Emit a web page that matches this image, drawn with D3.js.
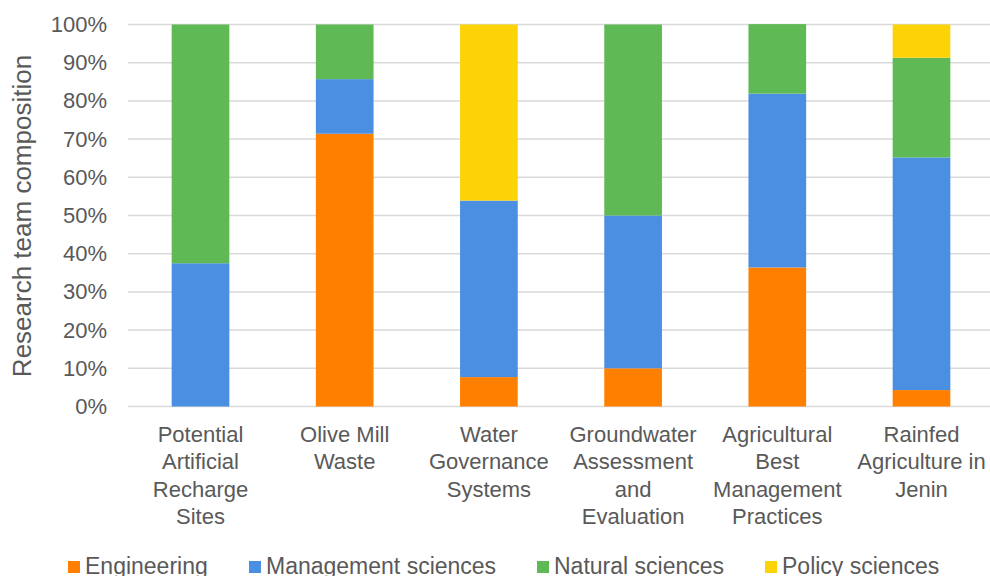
<!DOCTYPE html>
<html>
<head>
<meta charset="utf-8">
<script src="https://cdn.jsdelivr.net/npm/d3@7"></script>
<style>
  html, body { margin: 0; padding: 0; background: #fff; overflow: hidden; }
  svg { display: block; font-family: "Liberation Sans", Arial, sans-serif; }
</style>
</head>
<body>
<svg id="chart" width="990" height="576"></svg>
<script>
const categories = [
  ["Potential", "Artificial", "Recharge", "Sites"],
  ["Olive Mill", "Waste"],
  ["Water", "Governance", "Systems"],
  ["Groundwater", "Assessment", "and", "Evaluation"],
  ["Agricultural", "Best", "Management", "Practices"],
  ["Rainfed", "Agriculture in", "Jenin"]
];
const seriesNames = ["Engineering", "Management sciences", "Natural sciences", "Policy sciences"];
const engineering = [0, 71.4, 7.7, 10, 36.4, 4.3];
const management  = [37.5, 14.3, 46.2, 40, 45.5, 60.9];
const natural     = [62.5, 14.3, 0, 50, 18.2, 26.1];
const policy      = [0, 0, 46.1, 0, 0, 8.7];
const colors = ["#FF8000", "#4A8FE2", "#5FB955", "#FCD307"];
const yTicks = [0, 10, 20, 30, 40, 50, 60, 70, 80, 90, 100];

const svg = d3.select("#chart");
const textColor = "#595959";

const x = d3.scaleBand().domain(d3.range(categories.length)).range([128.4, 993.6]).paddingInner(0.6).paddingOuter(0.3);
const y = d3.scaleLinear().domain([0, 100]).range([406.5, 24.5]);

// gridlines
svg.append("g").selectAll("line").data(yTicks).join("line")
  .attr("x1", 128).attr("x2", 990)
  .attr("y1", d => y(d)).attr("y2", d => y(d))
  .attr("stroke", "#d9d9d9").attr("stroke-width", 1.5);

// y axis labels
const yAxis = d3.axisLeft(y).tickValues(yTicks).tickFormat(d => d + "%").tickSize(0).tickPadding(0);
const yg = svg.append("g").attr("transform", "translate(107,0)").call(yAxis);
yg.select(".domain").remove();
yg.selectAll("text").attr("fill", textColor).attr("font-size", 22).attr("font-family", "Liberation Sans, Arial, sans-serif");

// stacked data
const table = categories.map((c, i) => ({
  i,
  "Engineering": engineering[i],
  "Management sciences": management[i],
  "Natural sciences": natural[i],
  "Policy sciences": policy[i]
}));
const stack = d3.stack().keys(seriesNames)(table);

svg.append("g").selectAll("g").data(stack).join("g")
  .attr("fill", (d, k) => colors[k])
  .selectAll("rect").data(d => d).join("rect")
  .attr("x", d => x(d.data.i))
  .attr("width", x.bandwidth())
  .attr("y", d => y(d[1]))
  .attr("height", d => y(d[0]) - y(d[1]));

// x category labels
const xg = svg.append("g");
categories.forEach((lines, i) => {
  const t = xg.append("text")
    .attr("x", x(i) + x.bandwidth() / 2)
    .attr("y", 442)
    .attr("text-anchor", "middle")
    .attr("fill", textColor)
    .attr("font-size", 22);
  lines.forEach((ln, j) => {
    t.append("tspan").attr("x", x(i) + x.bandwidth() / 2).attr("dy", j === 0 ? 0 : 27.3).text(ln);
  });
});

// y axis title
svg.append("text")
  .attr("transform", "translate(31,216) rotate(-90)")
  .attr("text-anchor", "middle")
  .attr("fill", textColor)
  .attr("font-size", 26)
  .text("Research team composition");

// legend
const legendX = [68, 249, 537, 765];
const lg = svg.append("g");
seriesNames.forEach((s, k) => {
  lg.append("rect").attr("x", legendX[k]).attr("y", 561).attr("width", 12).attr("height", 12).attr("fill", colors[k]);
  lg.append("text").attr("x", legendX[k] + 17).attr("y", 574)
    .attr("fill", textColor).attr("font-size", 23).text(s);
});
</script>
</body>
</html>
